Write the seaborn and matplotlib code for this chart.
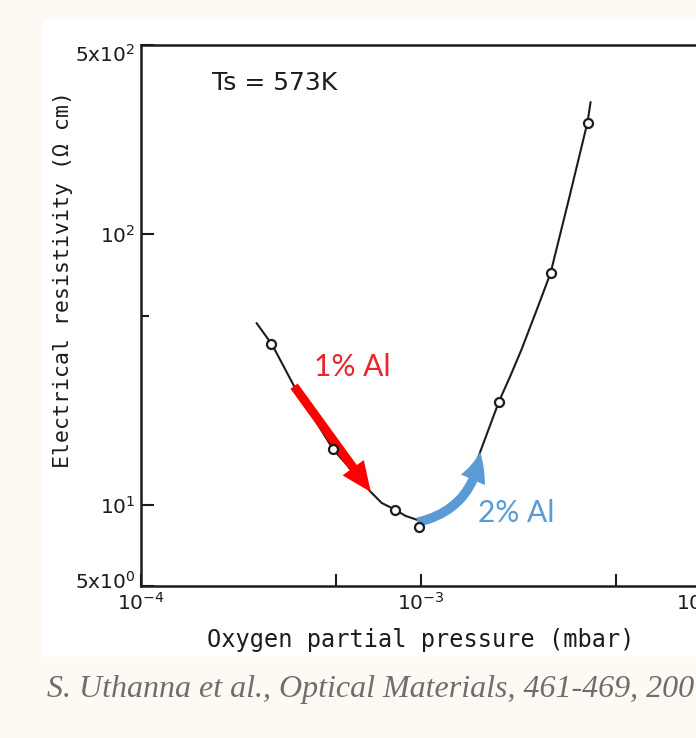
import matplotlib
matplotlib.use('Agg')
import matplotlib.pyplot as plt
import matplotlib.transforms as mtransforms
import seaborn as sns
from matplotlib.patches import FancyArrowPatch, Rectangle
from matplotlib.ticker import FixedLocator, NullLocator

# measured points (open circles)
pressure = [2.93e-4, 4.86e-4, 8.13e-4, 9.84e-4, 1.91e-3, 2.93e-3, 3.96e-3]
resistivity = [39.1, 16.05, 9.55, 8.24, 24.0, 72.0, 256.7]

# hand-drawn guide curve
curve_pressure = [2.59e-4, 2.95e-4, 3.53e-4, 4.86e-4, 6.64e-4, 7.26e-4, 8.15e-4,
                  8.84e-4, 9.76e-4, 1.19e-3, 1.365e-3, 1.51e-3, 1.635e-3, 1.91e-3,
                  2.10e-3, 2.30e-3, 2.63e-3, 2.92e-3, 3.39e-3, 3.96e-3, 4.06e-3]
curve_resistivity = [46.9, 38.9, 27.4, 16.05, 11.13, 10.14, 9.55, 9.08, 8.77, 9.47,
                     10.67, 12.32, 15.65, 24.1, 30.0, 37.5, 53.8, 71.8, 133.7, 259.6, 307.7]

x_ticks = [1e-4, 5e-4, 1e-3, 5e-3, 1e-2]
x_tick_labels = [r'$10^{-4}$', '', r'$10^{-3}$', '', r'$10^{-2}$']
y_ticks = [5, 10, 100, 500]
y_tick_labels = [r'5x10$^{0}$', r'10$^{1}$', r'10$^{2}$', r'5x10$^{2}$']
y_minor = [50]

# arrows: (start, end) in data units
red_arrow = [(3.53e-4, 27.4), (6.64e-4, 11.13)]
blue_arrow = [(9.76e-4, 8.6), (1.635e-3, 15.65)]

sns.set_theme(style='white')
plt.rcParams['font.family'] = ['DejaVu Sans']
plt.rcParams['mathtext.fontset'] = 'dejavusans'

W, H = 696, 738
ink = '#1c1c1c'
fig = plt.figure(figsize=(W / 100, H / 100), dpi=100, facecolor='#FEF9F2')
fig.patches.append(Rectangle((43 / W, 1 - 657 / H), (W - 43) / W, (657 - 19) / H,
                             transform=fig.transFigure, facecolor='white',
                             edgecolor='none', zorder=-5))

ax = fig.add_axes([141 / W, 1 - 586 / H, (700 - 141) / W, (586 - 45) / H])
ax.set_facecolor('white')
ax.set_xscale('log')
ax.set_yscale('log')

sns.lineplot(x=curve_pressure, y=curve_resistivity, sort=False, estimator=None,
             color=ink, lw=1.5, ax=ax, zorder=2)
sns.scatterplot(x=pressure, y=resistivity, s=42, marker='o', color='white',
                edgecolor=ink, linewidth=1.6, zorder=4, ax=ax)

# coloured arrows
ax.add_patch(FancyArrowPatch(red_arrow[0], red_arrow[1], transform=ax.transData,
                             arrowstyle='simple,head_length=1.2,head_width=1.05,tail_width=0.36',
                             mutation_scale=18, color='#FF0000', lw=0,
                             shrinkA=0, shrinkB=0, zorder=3))
ax.add_patch(FancyArrowPatch(blue_arrow[0], blue_arrow[1], transform=ax.transData,
                             connectionstyle='arc3,rad=0.35',
                             arrowstyle='simple,head_length=1.15,head_width=1.05,tail_width=0.38',
                             mutation_scale=18, color='#5B9BD5', lw=0,
                             shrinkA=0, shrinkB=0, zorder=3))

ax.set_xlim(1e-4, 1e-2)
ax.set_ylim(5, 500)
ax.xaxis.set_major_locator(FixedLocator(x_ticks))
ax.xaxis.set_minor_locator(NullLocator())
ax.set_xticklabels(x_tick_labels)
ax.yaxis.set_major_locator(FixedLocator(y_ticks))
ax.yaxis.set_minor_locator(FixedLocator(y_minor))
ax.set_yticklabels(y_tick_labels)
ax.yaxis.set_minor_formatter(plt.NullFormatter())

ax.tick_params(which='both', direction='in', bottom=True, left=True, top=False, right=False,
               colors=ink, labelsize=14.5, width=1.5)
ax.tick_params(which='major', length=9, pad=4)
ax.tick_params(which='minor', length=6)
for s in ax.spines.values():
    s.set_linewidth(1.8)
    s.set_color(ink)

# end labels sit a little inside the axis range in the original
ylabels = ax.get_yticklabels()
ylabels[0].set_transform(ylabels[0].get_transform()
                         + mtransforms.ScaledTranslation(0, 6 / 100, fig.dpi_scale_trans))
ylabels[-1].set_transform(ylabels[-1].get_transform()
                          + mtransforms.ScaledTranslation(0, -8 / 100, fig.dpi_scale_trans))

ax.set_xlabel('Oxygen partial pressure (mbar)', fontsize=17, color=ink,
              family='DejaVu Sans Mono')
ax.xaxis.set_label_coords(0.5, -0.077)
ax.xaxis.label.set_va('top')
ax.set_ylabel('Electrical resistivity (Ω cm)', fontsize=15.5, color=ink,
              family='DejaVu Sans Mono')
ax.yaxis.set_label_coords(-0.122, 0.566)

ax.text((212 - 141) / 559, (586 - 83) / 541, 'Ts = 573K', transform=ax.transAxes,
        fontsize=18, color=ink, ha='left', va='center')
ax.text(352 / W, 1 - 367 / H, '1% Al', transform=fig.transFigure, family='Lato',
        fontsize=21.5, color='#E8262C', ha='center', va='center')
ax.text(516 / W, 1 - 513 / H, '2% Al', transform=fig.transFigure, family='Lato',
        fontsize=21.5, color='#5B9BD5', ha='center', va='center')

fig.text(47 / W, 1 - 690 / H, 'S. Uthanna et al., Optical Materials, 461-469, 200',
         family='Liberation Serif', style='italic', fontsize=23, color='#6e6e6e',
         ha='left', va='center')

fig.savefig('out.png', dpi=100, facecolor=fig.get_facecolor())
